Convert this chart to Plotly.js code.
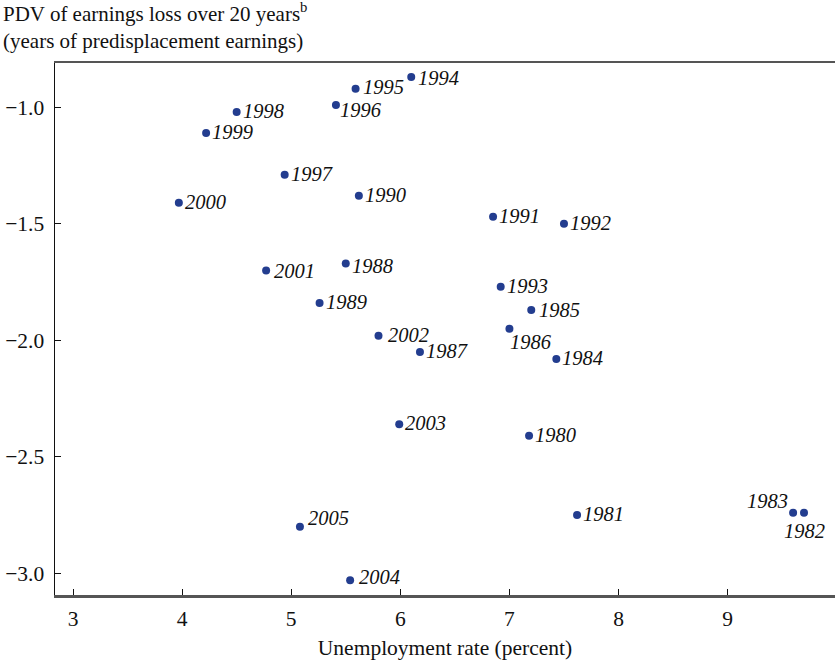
<!DOCTYPE html>
<html>
<head>
<meta charset="utf-8">
<script src="https://cdn.plot.ly/plotly-3.0.1.min.js"></script>
<style>html,body{margin:0;padding:0;background:#fff;}#chart{width:835px;height:660px;}</style>
</head>
<body>
<div id="chart"></div>
<script>
// Data
const years = ["1980","1981","1982","1983","1984","1985","1986","1987","1988","1989",
               "1990","1991","1992","1993","1994","1995","1996","1997","1998","1999",
               "2000","2001","2002","2003","2004","2005"];
const unemploymentRate = [7.18, 7.62, 9.70, 9.60, 7.43, 7.20, 7.00, 6.18, 5.50, 5.26,
                          5.62, 6.85, 7.50, 6.92, 6.10, 5.59, 5.41, 4.94, 4.50, 4.22,
                          3.97, 4.77, 5.80, 5.99, 5.54, 5.08];
const pdvLoss = [-2.41, -2.75, -2.74, -2.74, -2.08, -1.87, -1.95, -2.05, -1.67, -1.84,
                 -1.38, -1.47, -1.50, -1.77, -0.87, -0.92, -0.99, -1.29, -1.02, -1.11,
                 -1.41, -1.70, -1.98, -2.36, -3.03, -2.80];
const xTicks = [3, 4, 5, 6, 7, 8, 9];
const yTicks = [-1.0, -1.5, -2.0, -2.5, -3.0];
const yTickLabels = ["\u22121.0", "\u22121.5", "\u22122.0", "\u22122.5", "\u22123.0"];

// Label placement styling (pixel offsets from each dot), default: right of the dot
const defaultLabel = {xanchor: "left", xshift: 5, yshift: 1};
const labelOverrides = {
  "1996": {xanchor: "left", xshift: 3, yshift: -5},
  "1986": {xanchor: "left", xshift: 0, yshift: -13},
  "2005": {xanchor: "left", xshift: 7, yshift: 9},
  "1983": {xanchor: "right", xshift: -4, yshift: 12},
  "1982": {xanchor: "center", xshift: 0, yshift: -18},
  "1988": {xanchor: "left", xshift: 5, yshift: -3},
  "2004": {xanchor: "left", xshift: 8, yshift: 3},
  "2002": {xanchor: "left", xshift: 8, yshift: 1},
  "1985": {xanchor: "left", xshift: 7, yshift: 0},
  "1994": {xanchor: "left", xshift: 6, yshift: -1},
  "1995": {xanchor: "left", xshift: 6, yshift: 2},
  "2001": {xanchor: "left", xshift: 7, yshift: -1}
};

const serif = "'Liberation Serif', 'Times New Roman', serif";
const labelFont = {family: serif, size: 20.5, color: "#111", style: "italic"};

const trace = {
  type: "scatter",
  mode: "markers",
  x: unemploymentRate,
  y: pdvLoss,
  text: years,
  marker: {size: 8, color: "#233d8f"},
  hoverinfo: "x+y+text",
  cliponaxis: false
};

const pointLabels = years.map((yr, i) => {
  const o = labelOverrides[yr] || defaultLabel;
  return {
    x: unemploymentRate[i], y: pdvLoss[i], xref: "x", yref: "y",
    text: yr, showarrow: false,
    xanchor: o.xanchor, yanchor: "middle",
    xshift: o.xshift, yshift: o.yshift,
    borderpad: 0, font: labelFont
  };
});

const layout = {
  width: 835,
  height: 660,
  margin: {l: 55, r: 0, t: 63, b: 65},
  paper_bgcolor: "#fff",
  plot_bgcolor: "#fff",
  showlegend: false,
  font: {family: serif, size: 21, color: "#111"},
  xaxis: {
    range: [2.835, 9.984],
    tickvals: xTicks,
    ticktext: xTicks.map(String),
    ticks: "inside",
    ticklen: 6,
    tickwidth: 1,
    tickcolor: "#111",
    showgrid: false,
    zeroline: false,
    showline: true,
    linecolor: "#555",
    linewidth: 2.5,
    mirror: true,
    ticklabelstandoff: 3,
    tickfont: {family: serif, size: 21.5, color: "#111"},
    title: {text: "Unemployment rate (percent)", font: {family: serif, size: 21.5, color: "#111"}, standoff: 10}
  },
  yaxis: {
    range: [-3.093, -0.810],
    tickvals: yTicks,
    ticktext: yTickLabels,
    ticks: "inside",
    ticklen: 6,
    tickwidth: 1,
    tickcolor: "#111",
    showgrid: false,
    zeroline: false,
    showline: true,
    linecolor: "#111",
    linewidth: 1.5,
    mirror: false,
    ticklabelstandoff: 5,
    tickfont: {family: serif, size: 21.5, color: "#111"}
  },
  annotations: [
    {xref: "paper", yref: "paper", x: -0.069, y: 1.0, xanchor: "left", yanchor: "bottom",
     yshift: 8, align: "left", showarrow: false,
     text: "PDV of earnings loss over 20 years<sup>b</sup><br>(years of predisplacement earnings)",
     font: {family: serif, size: 21, color: "#111"}}
  ].concat(pointLabels)
};

Plotly.newPlot("chart", [trace], layout, {displayModeBar: false, staticPlot: true});
</script>
</body>
</html>
